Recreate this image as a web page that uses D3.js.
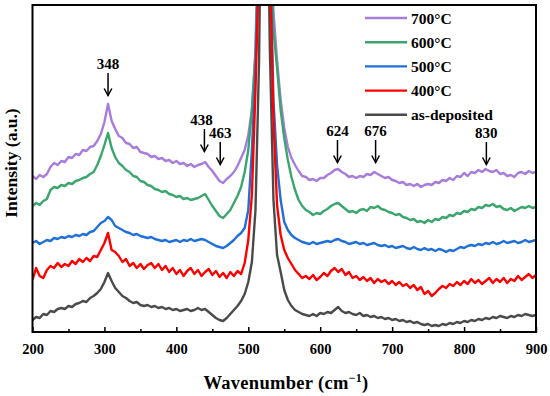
<!DOCTYPE html>
<html><head><meta charset="utf-8">
<script src="https://cdn.jsdelivr.net/npm/d3@7"></script>
<style>body{margin:0;background:#fff}text{font-family:"Liberation Serif","Times New Roman",serif;font-weight:bold}</style>
</head><body><svg id="c" width="550" height="396"></svg>
<script>
const wavenumbers = d3.range(200, 901, 5);
const s700 = [156,153,157,155,158,165,169,167,171,170,175,174,178,177,182,181,185,186,191,198,210,228,211,203,196,194,189,188,184,185,180,179,178,175,176,173,174,171,172,169,171,168,169,166,168,165,167,168,170,165,161,156,151,149,153,156,160,166,174,182,197,222,282,432,732,682,432,320,272,232,204,185,174,167,161,156,155,152,153,151,154,154,157,159,162,163,160,158,155,156,154,156,155,158,157,160,158,156,154,155,152,151,149,150,147,148,146,148,145,147,148,147,150,149,152,151,154,152,156,155,159,156,160,159,162,160,163,161,160,162,158,159,156,157,155,159,160,158,161,159,160];
const s600 = [126,129,127,131,133,142,145,144,147,146,149,148,151,152,154,155,158,160,167,176,187,199,184,175,169,166,162,160,156,155,151,150,147,146,143,142,140,141,138,137,135,136,133,134,132,133,134,136,138,132,126,121,116,114,118,122,129,136,145,160,182,222,277,412,712,662,412,302,264,222,194,172,155,142,132,126,122,120,117,119,118,121,123,126,128,129,126,123,120,121,119,122,123,121,125,124,126,123,122,120,119,117,118,115,114,112,113,110,111,109,112,110,113,112,115,114,117,116,119,118,121,120,123,122,125,124,127,126,128,125,126,123,122,124,121,123,125,124,126,124,125];
const s500 = [89,91,88,90,92,91,94,93,95,94,96,95,97,96,98,97,100,101,105,109,111,115,112,106,104,102,100,99,97,98,96,95,94,95,93,92,91,92,90,91,92,90,92,91,93,91,92,93,92,90,88,86,85,84,86,89,92,96,99,104,122,182,262,392,682,632,392,232,167,132,110,102,97,94,92,90,89,88,90,88,89,90,91,90,92,93,91,90,88,89,90,88,89,87,88,89,87,86,87,85,86,84,85,86,84,83,85,83,82,84,82,83,81,83,82,80,82,81,83,85,84,86,87,86,88,87,89,88,90,88,89,91,89,90,91,89,90,92,90,91,92];
const s400 = [52,64,56,54,62,66,64,69,65,68,66,71,68,73,70,74,71,76,75,82,89,99,82,80,76,70,73,66,69,64,68,63,67,69,64,68,62,66,60,64,58,62,56,61,64,58,62,56,60,63,57,61,55,59,54,60,56,61,58,69,92,137,242,372,662,612,372,212,127,97,82,74,68,62,58,54,56,53,57,52,55,59,56,61,64,60,63,57,60,54,56,52,55,51,54,49,53,50,52,48,51,47,50,46,48,44,47,42,45,38,41,36,39,43,46,44,48,46,50,47,51,48,53,49,52,48,51,54,49,53,50,54,49,53,51,56,52,55,58,54,57];
const sDep = [12,15,14,18,17,21,20,23,24,23,26,25,28,29,31,30,34,36,39,43,50,59,51,44,40,36,34,31,29,30,27,26,27,25,26,24,25,23,24,22,23,21,22,23,21,22,24,22,23,20,17,14,12,11,14,18,22,26,31,38,50,70,122,272,582,532,282,132,77,60,42,32,26,22,20,18,17,16,18,16,19,18,20,19,22,25,21,19,20,18,17,19,16,17,15,16,14,15,13,14,12,13,11,12,10,11,9,10,8,7,8,6,7,6,8,7,9,8,10,9,11,10,12,11,13,12,14,13,15,14,16,15,14,16,15,17,16,18,17,16,17];

const seriesNames = ["700°C","600°C","500°C","400°C","as-deposited"];
const seriesColors = ["#a77ddc","#3aa56d","#1f6fd8","#ff0000","#4a4a4a"];
const seriesValues = [s700, s600, s500, s400, sDep];
const drawOrder = [0,1,2,4,3];

const xTicks = [200,300,400,500,600,700,800,900];
const xMinorTicks = [250,350,450,550,650,750,850];

const peakLabels = ["348","438","463","624","676","830"];
const peakX = [305, 439, 461, 624, 677, 831];
const peakTip = [236, 180, 167, 169, 169, 167];

const m = {left: 32.5, right: 536, top: 5, bottom: 332};
const svg = d3.select("#c");
const x = d3.scaleLinear().domain([200, 900]).range([m.left, m.right]);
const y = d3.scaleLinear().domain([0, 327]).range([m.bottom, m.top]);

const defs = svg.append("defs");
defs.append("clipPath").attr("id","clip")
  .append("rect").attr("x", m.left).attr("y", m.top)
  .attr("width", m.right - m.left).attr("height", m.bottom - m.top);

const line = d3.line().x((d,i) => x(wavenumbers[i])).y(d => y(d));
const g = svg.append("g").attr("clip-path","url(#clip)");
drawOrder.forEach(k => {
  g.append("path").datum(seriesValues[k])
    .attr("d", line).attr("fill","none")
    .attr("stroke", seriesColors[k]).attr("stroke-width", 2.4)
    .attr("stroke-linejoin","round");
});

// axes
const ax = svg.append("g").attr("transform", `translate(0,${m.bottom})`)
  .call(d3.axisBottom(x).tickValues(xTicks).tickSize(-5).tickPadding(12).tickFormat(d3.format("d")));
ax.select(".domain").remove();
ax.selectAll(".tick line").attr("stroke","#000").attr("stroke-width",1.5);
ax.selectAll(".tick text").attr("font-size", 14.5).attr("fill","#000")
  .style("font-family","'Liberation Serif',serif").style("font-weight","bold");
const axm = svg.append("g").attr("transform", `translate(0,${m.bottom})`)
  .call(d3.axisBottom(x).tickValues(xMinorTicks).tickSize(-3).tickFormat(""));
axm.select(".domain").remove();
axm.selectAll(".tick line").attr("stroke","#000").attr("stroke-width",1.5);

svg.append("rect").attr("x", m.left).attr("y", m.top)
  .attr("width", m.right - m.left).attr("height", m.bottom - m.top)
  .attr("fill","none").attr("stroke","#000").attr("stroke-width",2);

// axis titles
const xt = svg.append("text").attr("x", 286).attr("y", 389).attr("text-anchor","middle")
  .attr("font-size", 18.5).attr("letter-spacing", 0.3);
xt.append("tspan").text("Wavenumber (cm");
xt.append("tspan").text("−1").attr("font-size", 12).attr("dy", -7);
xt.append("tspan").text(")").attr("dy", 7);

svg.append("text").attr("transform","translate(17,163) rotate(-90)")
  .attr("text-anchor","middle").attr("font-size", 17.5).text("Intensity (a.u.)");

// legend
const lg = svg.append("g");
seriesNames.forEach((n, i) => {
  const yy = 18 + i * 24.2;
  lg.append("line").attr("x1", 365).attr("x2", 407).attr("y1", yy).attr("y2", yy)
    .attr("stroke", seriesColors[i]).attr("stroke-width", 2.4);
  lg.append("text").attr("x", 411).attr("y", yy + 5.5).attr("font-size", 15.5).text(n);
});

// peak annotations
defs.append("marker").attr("id","ah").attr("viewBox","-9 -6 10 12")
  .attr("refX",0).attr("refY",0).attr("markerWidth",10).attr("markerHeight",12)
  .attr("markerUnits","userSpaceOnUse").attr("orient","auto")
  .append("path").attr("d","M-7,-3.8 L0,0 L-7,3.8").attr("fill","none").attr("stroke","#000").attr("stroke-width",1.5);
peakLabels.forEach((lab, i) => {
  const px = x(peakX[i]), py = y(peakTip[i]);
  svg.append("line").attr("x1", px).attr("x2", px).attr("y1", py - 23).attr("y2", py - 0.5)
    .attr("stroke","#000").attr("stroke-width",1.5).attr("marker-end","url(#ah)");
  svg.append("text").attr("x", px + (i === 1 ? -3 : 0)).attr("y", py - 27)
    .attr("text-anchor","middle").attr("font-size", 15).text(lab);
});
</script></body></html>
